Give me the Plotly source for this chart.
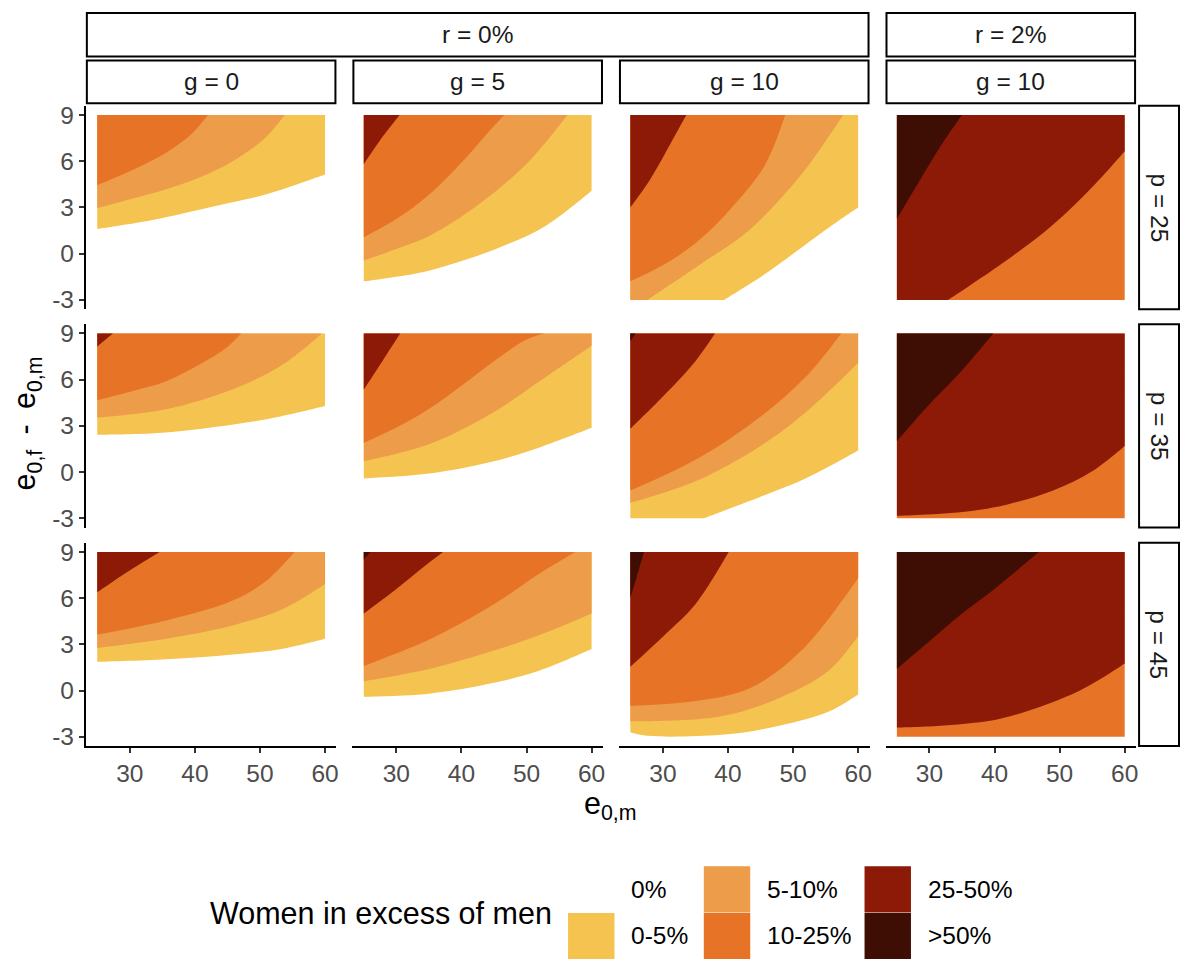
import plotly.graph_objects as go

W, H = 1183, 965

categories = ["0%", "0-5%", "5-10%", "10-25%", "25-50%", ">50%"]
category_colors = ["#FFFFFF", "#F5C350", "#ED9C4A", "#E77426", "#8D1A06", "#3E0E04"]

r_labels = ["r = 0%", "r = 2%"]
g_labels = ["g = 0", "g = 5", "g = 10", "g = 10"]
p_labels = ["p = 25", "p = 35", "p = 45"]
x_ticks = [30, 40, 50, 60]
y_ticks = [-3, 0, 3, 6, 9]
e0m_limits = [25, 60]
gap_limits = [-3, 9]

# Lower edge of each category region (e0,m ; e0,f - e0,m)
r0_g0_p25 = [
    ("0-5%", [(25, 1.6), (33.1, 2.15), (40.7, 2.85), (45.6, 3.32), (51, 3.86), (60, 5.15)]),
    ("5-10%", [(25, 2.95), (30.5, 3.58), (35.6, 4.18), (40.7, 4.94), (45.8, 6.0), (51, 7.6), (53.8, 9)]),
    ("10-25%", [(25, 4.45), (30.5, 5.45), (35.6, 6.55), (39.7, 7.85), (42, 9)]),
]
r0_g5_p25 = [
    ("0-5%", [(25, -1.8), (30, -1.5), (35.1, -1.09), (45.3, 0.31), (53, 1.82), (60, 4.08)]),
    ("5-10%", [(25, -0.44), (30, 0.31), (35.1, 1.17), (42.7, 3.21), (50.4, 6.0), (56.3, 9)]),
    ("10-25%", [(25, 1.06), (30, 2.25), (35.1, 3.86), (40.2, 6.0), (43.8, 7.73), (46.6, 9)]),
    ("25-50%", [(25, 5.8), (27.4, 7.3), (30.5, 9)]),
]
r0_g10_p25 = [
    ("0-5%", [(25, -3), (39.4, -3), (45.75, -1.3), (53.4, 1.06), (57, 2.14), (60, 3.0)]),
    ("5-10%", [(27.6, -3), (35.5, -0.76), (43.2, 1.5), (50.9, 4.94), (55, 7.3), (57.7, 9)]),
    ("10-25%", [(25, -1.8), (30.4, -0.66), (35.5, 0.85), (40.6, 3.0), (45.75, 5.8), (48.8, 9)]),
    ("25-50%", [(25, 3.0), (27.9, 4.72), (30.4, 6.55), (33.6, 9)]),
]
r2_g10_p25 = [
    ("10-25%", [(25, -3), (60, -3)]),
    ("25-50%", [(32.9, -3), (41.1, -0.66), (48.8, 1.82), (55.4, 4.5), (60, 6.66)]),
    (">50%", [(25, 2.25), (28.3, 4.6), (31.9, 7.1), (35, 9)]),
]

r0_g0_p35 = [
    ("0-5%", [(25, 2.42), (33.1, 2.5), (40.7, 2.79), (51, 3.43), (60, 4.29)]),
    ("5-10%", [(25, 3.54), (35.6, 4.08), (45.8, 5.37), (53.5, 6.98), (59.5, 9)]),
    ("10-25%", [(25, 4.66), (30.5, 5.26), (35.6, 5.9), (40.7, 6.98), (44.8, 8.05), (47.1, 9)]),
    ("25-50%", [(25, 8.16), (27.4, 9)]),
]
r0_g5_p35 = [
    ("0-5%", [(25, -0.42), (35, -0.1), (45, 0.7), (52, 1.6), (60, 2.87)]),
    ("5-10%", [(25, 0.7), (35, 1.8), (45, 3.9), (52, 5.9), (60, 8.2)]),
    ("10-25%", [(25, 1.9), (30, 2.9), (35, 4.1), (40, 5.6), (45, 7.2), (50, 8.6), (52.7, 9)]),
    ("25-50%", [(25, 5.35), (28, 7.3), (30.6, 9)]),
]
r0_g10_p35 = [
    ("0-5%", [(25, -3), (36.3, -3), (45, -1.6), (52, -0.4), (60, 1.4)]),
    ("5-10%", [(25, -2.0), (35, -0.6), (45, 1.7), (52, 3.9), (60, 7.1)]),
    ("10-25%", [(25, -1.2), (35, 0.8), (45, 3.6), (52, 6.2), (57.4, 9)]),
    ("25-50%", [(25, 2.8), (30, 4.9), (35, 7.2), (38, 9)]),
    (">50%", [(25, 8.5), (25.8, 9)]),
]
r2_g10_p35 = [
    ("10-25%", [(25, -3), (60, -3)]),
    ("25-50%", [(25, -2.85), (35, -2.6), (42, -2.1), (49, -1.2), (55, 0.05), (60, 1.7)]),
    (">50%", [(25, 2.0), (30, 4.4), (35, 6.6), (39.8, 9)]),
]

r0_g0_p45 = [
    ("0-5%", [(25, 1.86), (35.6, 2.03), (45.8, 2.34), (53.5, 2.72), (60, 3.37)]),
    ("5-10%", [(25, 2.77), (35.6, 3.37), (45.8, 4.23), (53.5, 5.3), (60, 6.92)]),
    ("10-25%", [(25, 3.63), (35.6, 4.55), (45.8, 5.84), (51, 7.13), (55.3, 9)]),
    ("25-50%", [(25, 6.38), (29.5, 7.67), (34.6, 9)]),
]
r0_g5_p45 = [
    ("0-5%", [(25, -0.4), (35, -0.2), (45, 0.5), (52, 1.3), (60, 2.7)]),
    ("5-10%", [(25, 0.6), (35, 1.4), (45, 2.6), (52, 3.6), (60, 5.0)]),
    ("10-25%", [(25, 1.6), (35, 3.3), (45, 5.6), (52, 7.6), (57.5, 9)]),
    ("25-50%", [(25, 5.0), (30, 6.6), (35, 8.3), (37.2, 9)]),
    (">50%", [(25, 8.5), (26, 9)]),
]
r0_g10_p45 = [
    ("0-5%", [(25, -2.7), (27.7, -2.94), (39, -2.87), (46.6, -2.4), (55.5, -1.36), (60, -0.25)]),
    ("5-10%", [(25, -2.0), (38.6, -1.7), (47.8, -0.5), (55.5, 1.3), (60, 3.55)]),
    ("10-25%", [(25, -1.0), (34.8, -0.7), (43.6, 0.2), (52, 2.9), (60, 7.3)]),
    ("25-50%", [(25, 1.55), (30, 3.5), (35, 5.6), (40.1, 9)]),
    (">50%", [(25, 6.0), (26, 7.4), (27.1, 9)]),
]
r2_g10_p45 = [
    ("10-25%", [(25, -3), (60, -3)]),
    ("25-50%", [(25, -2.4), (32.2, -2.27), (41.2, -1.8), (52.9, -0.05), (60, 1.75)]),
    (">50%", [(25, 1.4), (30, 3.2), (35, 5.0), (40, 6.6), (46.8, 9)]),
]

panels = [
    [r0_g0_p25, r0_g5_p25, r0_g10_p25, r2_g10_p25],
    [r0_g0_p35, r0_g5_p35, r0_g10_p35, r2_g10_p35],
    [r0_g0_p45, r0_g5_p45, r0_g10_p45, r2_g10_p45],
]

FONT = "Liberation Sans, Arial, Helvetica, sans-serif"
TICK_SIZE = 24.5
TITLE_SIZE = 30.5

# pixel layout (window pixels)
col_left = [86 + 267 * c for c in range(4)]
col_w = 251
row_top = [102.7, 322.9, 543.2]
row_h = 205


def fx(px):
    return px / W


def fy(py):
    return 1 - py / H


def region(points):
    """Area above/left of a boundary, closed along the panel's data box.
    Points on the box edges are doubled so the spline keeps sharp corners there."""
    x0, x1 = e0m_limits
    y0, y1 = gap_limits
    path = list(points)
    if path[-1][0] == x1 and path[-1][1] < y1:
        path.append((x1, y1))
    path.append((x0, y1))
    if path[0][1] == y0 and path[0][0] > x0:
        path.append((x0, y0))
    path.append(points[0])
    xs, ys = [], []
    for (x, y) in path:
        reps = 2 if (x in (x0, x1) or y in (y0, y1)) else 1
        for _ in range(reps):
            xs.append(x)
            ys.append(y)
    return xs, ys


fig = go.Figure()
layout = {}
for r in range(3):
    for c in range(4):
        k = r * 4 + c + 1
        sfx = "" if k == 1 else str(k)
        xa, ya = "x" + sfx, "y" + sfx
        for cat, pts in panels[r][c]:
            xs, ys = region(pts)
            fig.add_trace(go.Scatter(
                x=xs, y=ys, mode="lines", fill="toself",
                fillcolor=category_colors[categories.index(cat)],
                line=dict(width=0, shape="spline", smoothing=1, simplify=False),
                hoverinfo="skip", showlegend=False,
                xaxis=xa, yaxis=ya,
            ))
        layout["xaxis" + sfx] = dict(
            domain=[fx(col_left[c]), fx(col_left[c] + col_w)],
            range=[23.25, 61.75], anchor=ya,
            showgrid=False, zeroline=False,
            showline=(r == 2), linecolor="black", linewidth=2,
            ticks="outside" if r == 2 else "", ticklen=5, tickwidth=2, tickcolor="#333333",
            tickvals=x_ticks, ticktext=[str(v) for v in x_ticks],
            showticklabels=(r == 2),
            tickfont=dict(family=FONT, size=TICK_SIZE, color="#4D4D4D"),
        )
        layout["yaxis" + sfx] = dict(
            domain=[fy(row_top[r] + row_h), fy(row_top[r])],
            range=[-3.6, 9.6], anchor=xa,
            showgrid=False, zeroline=False,
            showline=(c == 0), linecolor="black", linewidth=2,
            ticks="outside" if c == 0 else "", ticklen=5, tickwidth=2, tickcolor="#333333",
            tickvals=y_ticks, ticktext=[str(v) for v in y_ticks],
            showticklabels=(c == 0),
            tickfont=dict(family=FONT, size=TICK_SIZE, color="#4D4D4D"),
        )

shapes = []
annotations = []


def strip(x0, y0, x1, y1, text, angle=0):
    shapes.append(dict(type="rect", xref="paper", yref="paper",
                       x0=fx(x0), x1=fx(x1), y0=fy(y1), y1=fy(y0),
                       line=dict(color="black", width=2), fillcolor="white", layer="above"))
    annotations.append(dict(xref="paper", yref="paper", x=fx((x0 + x1) / 2), y=fy((y0 + y1) / 2),
                            text=text, showarrow=False, textangle=angle,
                            xanchor="center", yanchor="middle",
                            font=dict(family=FONT, size=TICK_SIZE, color="#1A1A1A")))


# top strips: r
strip(col_left[0] + 1, 9, col_left[2] + col_w - 1, 53, r_labels[0])
strip(col_left[3] + 1, 9, col_left[3] + col_w - 1, 53, r_labels[1])
# g strips
for c in range(4):
    strip(col_left[c] + 1, 57, col_left[c] + col_w - 1, 100, g_labels[c])
# p strips
for r in range(3):
    strip(1141, row_top[r], 1181, row_top[r] + row_h, p_labels[r], angle=90)

# axis titles
annotations.append(dict(xref="paper", yref="paper", x=fx(612), y=fy(808),
                        text="e<sub>0,m</sub>", showarrow=False,
                        xanchor="center", yanchor="middle",
                        font=dict(family=FONT, size=TITLE_SIZE, color="black")))
annotations.append(dict(xref="paper", yref="paper", x=fx(27), y=fy(423),
                        text="e<sub>0,f</sub>\u2002-\u2002e<sub>0,m</sub>", showarrow=False,
                        textangle=-90, xanchor="center", yanchor="middle",
                        font=dict(family=FONT, size=TITLE_SIZE, color="black")))

# legend (manual, two rows, column-major)
annotations.append(dict(xref="paper", yref="paper", x=fx(208), y=fy(917),
                        text="Women in excess of men", showarrow=False,
                        xanchor="left", yanchor="middle",
                        font=dict(family=FONT, size=TITLE_SIZE, color="black")))
key_cols = [569, 705, 866]
label_cols = [630, 766, 928]
key_rows = [869.5, 916.5]
key = 46.5
for i, cat in enumerate(categories):
    cc, rr = i // 2, i % 2
    shapes.append(dict(type="rect", xref="paper", yref="paper",
                       x0=fx(key_cols[cc]), x1=fx(key_cols[cc] + key),
                       y0=fy(key_rows[rr] + key), y1=fy(key_rows[rr]),
                       line=dict(width=0), fillcolor=category_colors[i]))
    annotations.append(dict(xref="paper", yref="paper", x=fx(label_cols[cc]),
                            y=fy(key_rows[rr] + key / 2),
                            text=cat, showarrow=False, xanchor="left", yanchor="middle",
                            font=dict(family=FONT, size=TICK_SIZE, color="black")))

fig.update_layout(
    width=W, height=H,
    margin=dict(l=0, r=0, t=0, b=0),
    paper_bgcolor="white", plot_bgcolor="white",
    showlegend=False,
    shapes=shapes, annotations=annotations,
    **layout,
)

fig.write_html(
    "out.html",
    config={"displayModeBar": False},
    post_script=(
        "document.documentElement.style.margin='0';"
        "document.body.style.margin='0';"
        "document.documentElement.style.overflow='hidden';"
        "document.body.style.overflow='hidden';"
    ),
)
